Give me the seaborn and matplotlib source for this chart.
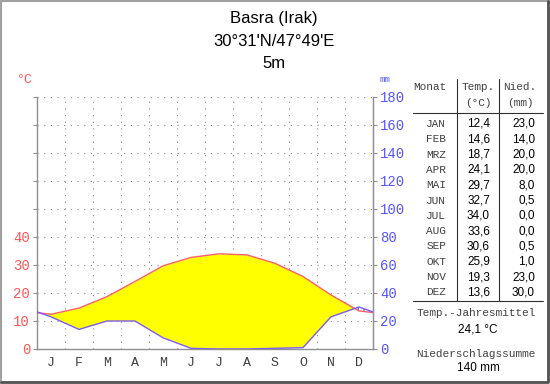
import numpy as np
import pandas as pd
import matplotlib
matplotlib.use('Agg')
import matplotlib.pyplot as plt
from matplotlib.lines import Line2D
import seaborn as sns

# climate data for Basra
months = ['J', 'F', 'M', 'A', 'M', 'J', 'J', 'A', 'S', 'O', 'N', 'D']
month_abbr = ['JAN', 'FEB', 'MRZ', 'APR', 'MAI', 'JUN', 'JUL', 'AUG', 'SEP', 'OKT', 'NOV', 'DEZ']
temp = [12.4, 14.6, 18.7, 24.1, 29.7, 32.7, 34.0, 33.6, 30.6, 25.9, 19.3, 13.6]
prec = [23.0, 14.0, 20.0, 20.0, 8.0, 0.5, 0.0, 0.0, 0.5, 1.0, 23.0, 30.0]
temp_labels = ['12,4', '14,6', '18,7', '24,1', '29,7', '32,7', '34,0', '33,6', '30,6', '25,9', '19,3', '13,6']
prec_labels = ['23,0', '14,0', '20,0', '20,0', '8,0', '0,5', '0,0', '0,0', '0,5', '1,0', '23,0', '30,0']
title_lines = ['Basra (Irak)', "30°31'N/47°49'E", '5m']
mean_temp = '24,1 °C'
sum_prec = '140 mm'

sns.set_style('white')
plt.rcParams['font.family'] = ['Liberation Sans', 'DejaVu Sans']

W, H = 550, 384
fig = plt.figure(figsize=(5.5, 3.84), dpi=100)


def fx(px):
    return px / W


def fy(py):
    return 1 - py / H


# month centres plus wrap-around values at both edges
df = pd.DataFrame({'month': np.arange(12) + 0.5, 'temp': temp, 'prec': np.array(prec) / 2})
edge = pd.DataFrame({'month': [0.0, 12.0],
                     'temp': [(temp[0] + temp[-1]) / 2] * 2,
                     'prec': [(prec[0] + prec[-1]) / 4] * 2})
df = pd.concat([edge.iloc[[0]], df, edge.iloc[[1]]], ignore_index=True)

ax = fig.add_axes([fx(37), fy(349), fx(373) - fx(37), fy(97) - fy(349)])
ax.set_xlim(0, 12)
ax.set_ylim(0, 90)

# dotted grid
for v in range(10, 91, 10):
    ax.axhline(v, color='#888888', lw=0.8, ls=(0, (1, 5)), zorder=0)
for m in range(1, 12):
    ax.axvline(m, color='#888888', lw=0.8, ls=(0, (1, 5)), zorder=0)

ax.fill_between(df['month'], df['temp'], df['prec'], where=df['temp'] >= df['prec'],
                interpolate=True, color='#ffff00', lw=0, zorder=1)
ax.fill_between(df['month'], df['temp'], df['prec'], where=df['prec'] >= df['temp'],
                interpolate=True, facecolor='none', edgecolor='#7070ff', hatch='|||', lw=0, zorder=1)
sns.lineplot(data=df, x='month', y='temp', color='#ff6060', lw=1, ax=ax, zorder=3)
sns.lineplot(data=df, x='month', y='prec', color='#7a5cff', lw=1, ax=ax, zorder=3)

ax.set_xlabel('')
ax.set_ylabel('')
for s in ['left', 'right', 'bottom']:
    ax.spines[s].set_color('#909090')
    ax.spines[s].set_linewidth(1)
ax.spines['top'].set_visible(False)

ax.set_xticks(range(13))
ax.set_xticklabels([])
ax.set_xticks(np.arange(12) + 0.5, minor=True)
ax.set_xticklabels(months, minor=True, family='Liberation Mono', fontsize=9.5, color='#404040')
ax.tick_params(axis='x', which='major', length=3, color='#909090', direction='out')
ax.tick_params(axis='x', which='minor', length=0, pad=6)

ax.set_yticks(range(0, 91, 10))
ax.set_yticklabels([str(v) if v <= 40 else '' for v in range(0, 91, 10)],
                   family='Liberation Mono', fontsize=10, color='#ff5555')
ax.tick_params(axis='y', length=3, color='#909090', direction='out', pad=2)

ax2 = ax.twinx()
ax2.set_ylim(0, 180)
ax2.set_yticks(range(0, 181, 20))
ax2.set_yticklabels([str(v) for v in range(0, 181, 20)],
                    family='Liberation Mono', fontsize=10, color='#5555ff')
ax2.tick_params(axis='y', length=3, color='#909090', direction='out', pad=2)
for s in ['left', 'top', 'bottom']:
    ax2.spines[s].set_visible(False)
ax2.spines['right'].set_color('#909090')

fig.text(fx(25), fy(80), '°C', color='#ff5555', fontsize=9.5, family='Liberation Mono', ha='center', va='center')
fig.text(fx(385), fy(80), 'mm', color='#5555ff', fontsize=6.5, family='Liberation Mono', ha='center', va='center')

# title
for i, line in enumerate(title_lines):
    fig.text(fx(274), fy(19 + 22 * i), line, fontsize=12, ha='center', va='center', color='black')

# table
mono = dict(family='Liberation Mono', fontsize=8, color='#404040')
sans = dict(family='Liberation Sans', fontsize=8.5, color='black')
fig.text(fx(446), fy(87), 'Monat', ha='right', va='center', **mono)
fig.text(fx(478), fy(87), 'Temp.', ha='center', va='center', **mono)
fig.text(fx(478), fy(103), '(°C)', ha='center', va='center', **mono)
fig.text(fx(520), fy(87), 'Nied.', ha='center', va='center', **mono)
fig.text(fx(520), fy(103), '(mm)', ha='center', va='center', **mono)
for i in range(12):
    y = fy(124 + 15.3 * i)
    fig.text(fx(446), y, month_abbr[i], ha='right', va='center', **mono)
    fig.text(fx(490), y, temp_labels[i], ha='right', va='center', **sans)
    fig.text(fx(535), y, prec_labels[i], ha='right', va='center', **sans)

lc = '#303030'
fig.add_artist(Line2D([fx(457), fx(457)], [fy(79), fy(301)], color=lc, lw=0.8))
fig.add_artist(Line2D([fx(499), fx(499)], [fy(79), fy(301)], color=lc, lw=0.8))
fig.add_artist(Line2D([fx(413), fx(543)], [fy(113), fy(113)], color=lc, lw=0.8))
fig.add_artist(Line2D([fx(413), fx(543)], [fy(301), fy(301)], color=lc, lw=0.8))

fig.text(fx(476), fy(313), 'Temp.-Jahresmittel', ha='center', va='center', **mono)
fig.text(fx(478), fy(330), mean_temp, ha='center', va='center', **sans)
fig.text(fx(476), fy(354), 'Niederschlagssumme', ha='center', va='center', **mono)
fig.text(fx(478), fy(368), sum_prec, ha='center', va='center', **sans)

# image frame
fig.add_artist(Line2D([0.002, 0.002, 0.998], [0.003, 0.997, 0.997], color='#a0a0a0', lw=1.5))
fig.add_artist(Line2D([0.002, 0.996, 0.996], [0.004, 0.004, 0.997], color='#505050', lw=2))

fig.savefig('out.png', dpi=100)
